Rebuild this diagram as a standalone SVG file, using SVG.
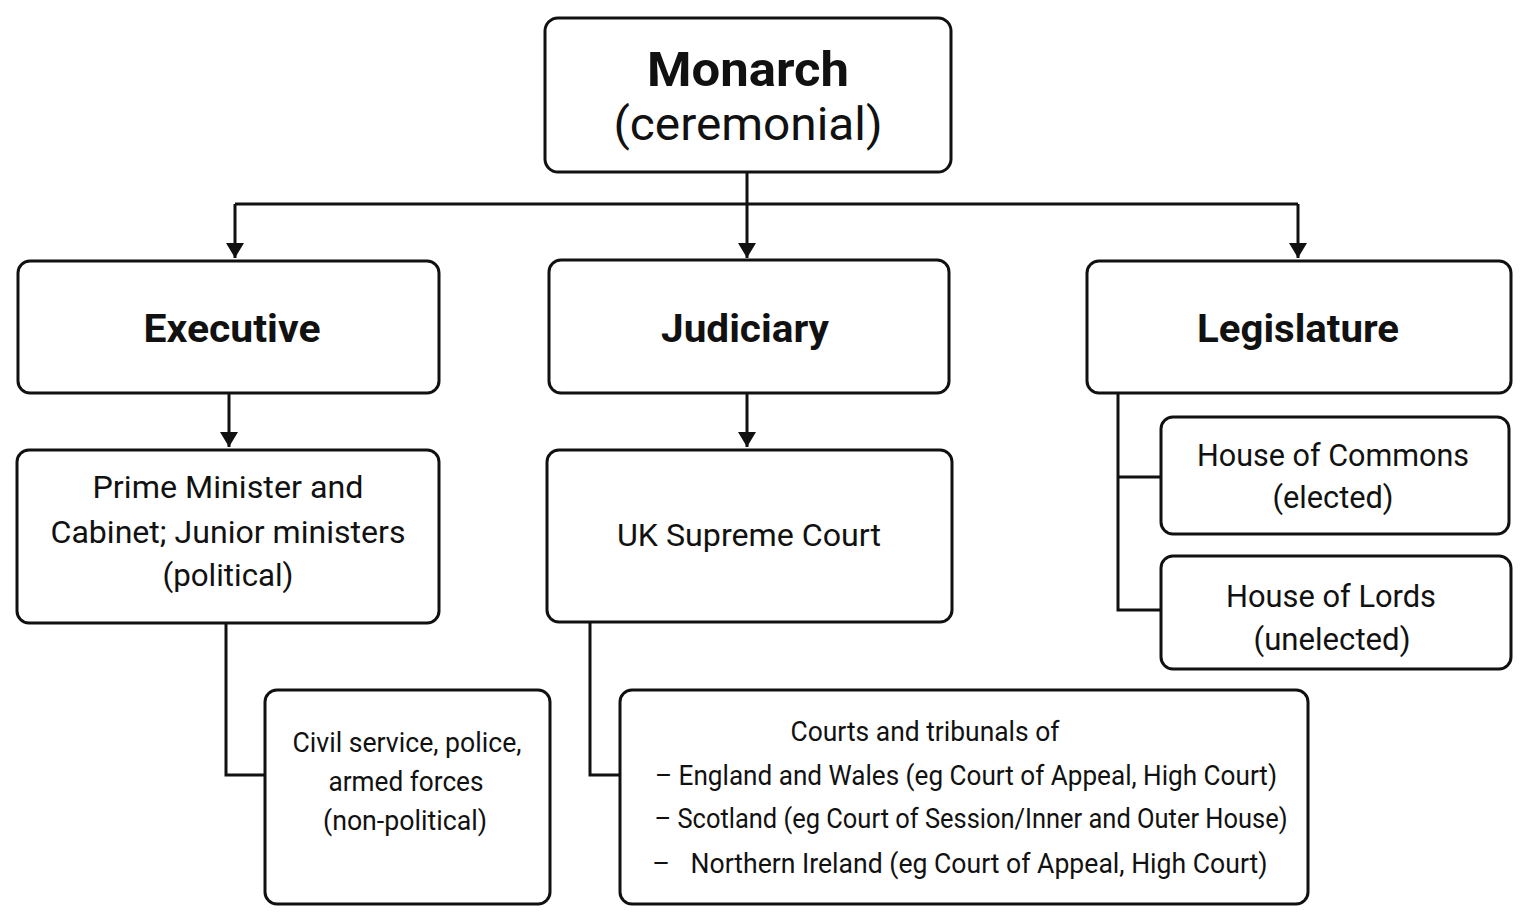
<svg xmlns="http://www.w3.org/2000/svg" width="1528" height="923" viewBox="0 0 1528 923">
<defs>
<style>
.box{fill:#fff;stroke:#111;stroke-width:3}
.t{font-family:Roboto,"Liberation Sans",sans-serif;fill:#111;text-anchor:middle}
.b{font-weight:bold}
.l{fill:none;stroke:#111;stroke-width:3}
</style>
<marker id="ah" viewBox="0 0 10 12" refX="10" refY="6" markerWidth="5" markerHeight="6" orient="auto" markerUnits="strokeWidth">
<path d="M0,0 L10,6 L0,12 z" fill="#111"/>
</marker>
</defs>
<rect width="1528" height="923" fill="#fff"/>
<g id="connectors">
<path class="l" d="M747,172 V258" marker-end="url(#ah)"/>
<path class="l" d="M235,204 H1298"/>
<path class="l" d="M235,204 V258" marker-end="url(#ah)"/>
<path class="l" d="M1298,204 V258" marker-end="url(#ah)"/>
<path class="l" d="M229,393 V447" marker-end="url(#ah)"/>
<path class="l" d="M747,393 V447" marker-end="url(#ah)"/>
<path class="l" d="M226,623 V775 H265"/>
<path class="l" d="M590,622 V775 H620"/>
<path class="l" d="M1118,393 V610 H1161 M1118,477 H1161"/>
</g>
<g id="monarch">
<rect class="box" x="545" y="18" width="406" height="154" rx="13"/>
<text class="t b" x="748" y="86" font-size="49" textLength="202" lengthAdjust="spacingAndGlyphs">Monarch</text>
<text class="t" x="748" y="140" font-size="46" textLength="269" lengthAdjust="spacingAndGlyphs">(ceremonial)</text>
</g>
<g id="executive">
<rect class="box" x="18" y="261" width="421" height="132" rx="12"/>
<text class="t b" x="232" y="342" font-size="39" textLength="177" lengthAdjust="spacingAndGlyphs">Executive</text>
</g>
<g id="judiciary">
<rect class="box" x="549" y="260" width="400" height="133" rx="12"/>
<text class="t b" x="745" y="342" font-size="39" textLength="168" lengthAdjust="spacingAndGlyphs">Judiciary</text>
</g>
<g id="legislature">
<rect class="box" x="1087" y="261" width="424" height="132" rx="12"/>
<text class="t b" x="1298" y="342" font-size="39" textLength="202" lengthAdjust="spacingAndGlyphs">Legislature</text>
</g>
<g id="pm">
<rect class="box" x="17" y="450" width="422" height="173" rx="12"/>
<text class="t" x="228" y="498" font-size="32" textLength="271" lengthAdjust="spacingAndGlyphs">Prime Minister and</text>
<text class="t" x="228" y="543" font-size="32" textLength="355" lengthAdjust="spacingAndGlyphs">Cabinet; Junior ministers</text>
<text class="t" x="228" y="586" font-size="32" textLength="131" lengthAdjust="spacingAndGlyphs">(political)</text>
</g>
<g id="supreme">
<rect class="box" x="547" y="450" width="405" height="172" rx="12"/>
<text class="t" x="749" y="546" font-size="32" textLength="264" lengthAdjust="spacingAndGlyphs">UK Supreme Court</text>
</g>
<g id="commons">
<rect class="box" x="1161" y="417" width="348" height="117" rx="12"/>
<text class="t" x="1333" y="466" font-size="32" textLength="272" lengthAdjust="spacingAndGlyphs">House of Commons</text>
<text class="t" x="1333" y="508" font-size="32" textLength="121" lengthAdjust="spacingAndGlyphs">(elected)</text>
</g>
<g id="lords">
<rect class="box" x="1161" y="556" width="350" height="113" rx="12"/>
<text class="t" x="1331" y="607" font-size="32" textLength="210" lengthAdjust="spacingAndGlyphs">House of Lords</text>
<text class="t" x="1332" y="650" font-size="32" textLength="157" lengthAdjust="spacingAndGlyphs">(unelected)</text>
</g>
<g id="civil">
<rect class="box" x="265" y="690" width="285" height="214" rx="12"/>
<text class="t" x="407" y="752" font-size="27" textLength="229" lengthAdjust="spacingAndGlyphs">Civil service, police,</text>
<text class="t" x="406" y="791" font-size="27" textLength="155" lengthAdjust="spacingAndGlyphs">armed forces</text>
<text class="t" x="405" y="830" font-size="27" textLength="164" lengthAdjust="spacingAndGlyphs">(non-political)</text>
</g>
<g id="courts">
<rect class="box" x="620" y="690" width="688" height="214" rx="12"/>
<text class="t" x="925" y="741" font-size="27" textLength="269" lengthAdjust="spacingAndGlyphs">Courts and tribunals of</text>
<text class="t" x="966" y="785" font-size="27" textLength="622" lengthAdjust="spacingAndGlyphs">– England and Wales (eg Court of Appeal, High Court)</text>
<text class="t" x="971" y="828" font-size="27" textLength="633" lengthAdjust="spacingAndGlyphs">– Scotland (eg Court of Session/Inner and Outer House)</text>
<text class="t" x="661" y="873" font-size="27">–</text>
<text class="t" x="979" y="873" font-size="27" textLength="577" lengthAdjust="spacingAndGlyphs">Northern Ireland (eg Court of Appeal, High Court)</text>
</g>
</svg>
